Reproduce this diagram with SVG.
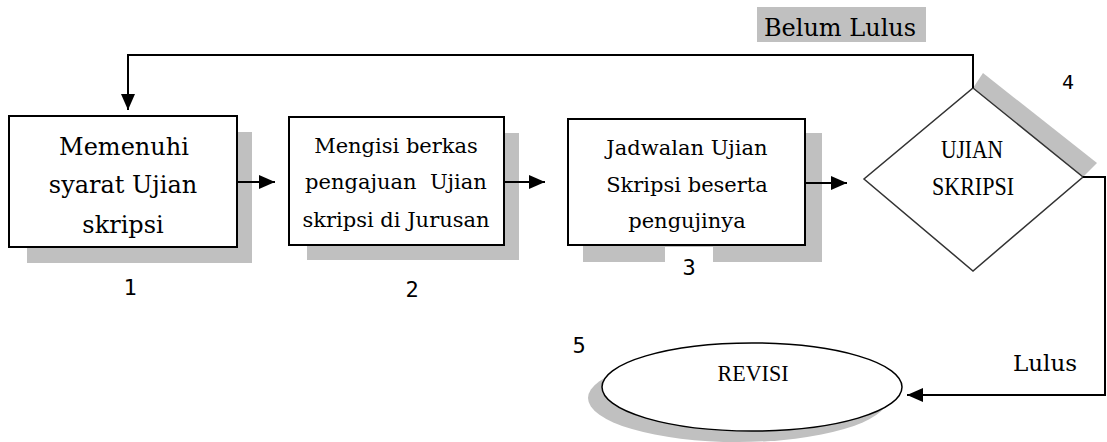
<svg xmlns="http://www.w3.org/2000/svg" width="1107" height="442" viewBox="0 0 1107 442">
<style>
.box{fill:#fff;stroke:#000;stroke-width:2}
.shadow{fill:#c0c0c0;stroke:none}
.t{font-family:"DejaVu Serif","Liberation Serif",serif;fill:#000;text-anchor:middle}
.caps{font-family:"Liberation Serif","DejaVu Serif",serif;fill:#000;text-anchor:middle}
.num{font-family:"DejaVu Sans Mono","Liberation Mono",monospace;fill:#000;text-anchor:middle}
.ln{fill:none;stroke:#000;stroke-width:2}
</style>
<defs>
<marker id="ah" viewBox="0 0 16 14" refX="16" refY="7" markerWidth="16" markerHeight="14" markerUnits="userSpaceOnUse" orient="auto">
<path d="M0,0 L16,7 L0,14 z" fill="#000"/>
</marker>
</defs>
<rect width="1107" height="442" fill="#fff"/>

<g id="node1">
<rect class="shadow" x="27" y="132" width="225" height="131"/>
<rect class="box" x="9" y="116" width="228" height="131"/>
<text class="t" font-size="24" x="124" y="155">Memenuhi</text>
<text class="t" font-size="24" x="123" y="193">syarat Ujian</text>
<text class="t" font-size="24" x="123" y="233">skripsi</text>
<text class="num" font-size="22" x="130" y="295">1</text>
</g>

<g id="node2">
<rect class="shadow" x="307" y="133" width="212" height="127"/>
<rect class="box" x="289" y="117" width="215" height="128"/>
<text class="t" font-size="21" x="396" y="153">Mengisi berkas</text>
<text class="t" font-size="21" x="396" y="189" xml:space="preserve">pengajuan  Ujian</text>
<text class="t" font-size="21" x="396" y="227">skripsi di Jurusan</text>
<text class="num" font-size="22" x="412" y="297">2</text>
</g>

<g id="node3">
<rect class="shadow" x="583" y="133" width="239" height="129"/>
<rect class="box" x="568" y="119" width="237" height="126"/>
<rect x="665" y="247" width="48" height="30" fill="#fff"/>
<text class="t" font-size="21" x="687" y="155">Jadwalan Ujian</text>
<text class="t" font-size="21" x="687" y="192">Skripsi beserta</text>
<text class="t" font-size="21" x="687" y="228">pengujinya</text>
<text class="num" font-size="22" x="689" y="275">3</text>
</g>

<g id="node4">
<polygon class="shadow" points="973,88 983,73 1097,163 1083,177"/>
<polygon points="973,88 1083,177 973,271 864,179" fill="#fff" stroke="#333" stroke-width="1.5"/>
<text class="caps" font-size="26" x="972" y="158" textLength="62" lengthAdjust="spacingAndGlyphs">UJIAN</text>
<text class="caps" font-size="26" x="973" y="195" textLength="82" lengthAdjust="spacingAndGlyphs">SKRIPSI</text>
<text class="num" font-size="20" x="1068" y="89">4</text>
</g>

<g id="node5">
<ellipse class="shadow" cx="738" cy="398" rx="150" ry="44"/>
<ellipse cx="752" cy="387" rx="150" ry="44" fill="#fff" stroke="#000" stroke-width="1.5"/>
<text class="caps" font-size="24" x="753" y="381" textLength="71" lengthAdjust="spacingAndGlyphs">REVISI</text>
<text class="num" font-size="22" x="579" y="353">5</text>
</g>

<g id="label-belum">
<rect x="757" y="7" width="169" height="35" fill="#c0c0c0"/>
<text class="t" font-size="24" x="840" y="36">Belum Lulus</text>
</g>

<g id="label-lulus">
<text class="t" font-size="23" x="1045" y="371">Lulus</text>
</g>

<g id="connectors">
<line class="ln" x1="237" y1="182" x2="275" y2="182" marker-end="url(#ah)"/>
<line class="ln" x1="504" y1="182" x2="545" y2="182" marker-end="url(#ah)"/>
<line class="ln" x1="805" y1="183" x2="847" y2="183" marker-end="url(#ah)"/>
<polyline class="ln" points="973,88 973,55 128,55 128,110" marker-end="url(#ah)"/>
<polyline class="ln" points="1083,177 1105,177 1105,395 907,395" marker-end="url(#ah)"/>
</g>
</svg>
